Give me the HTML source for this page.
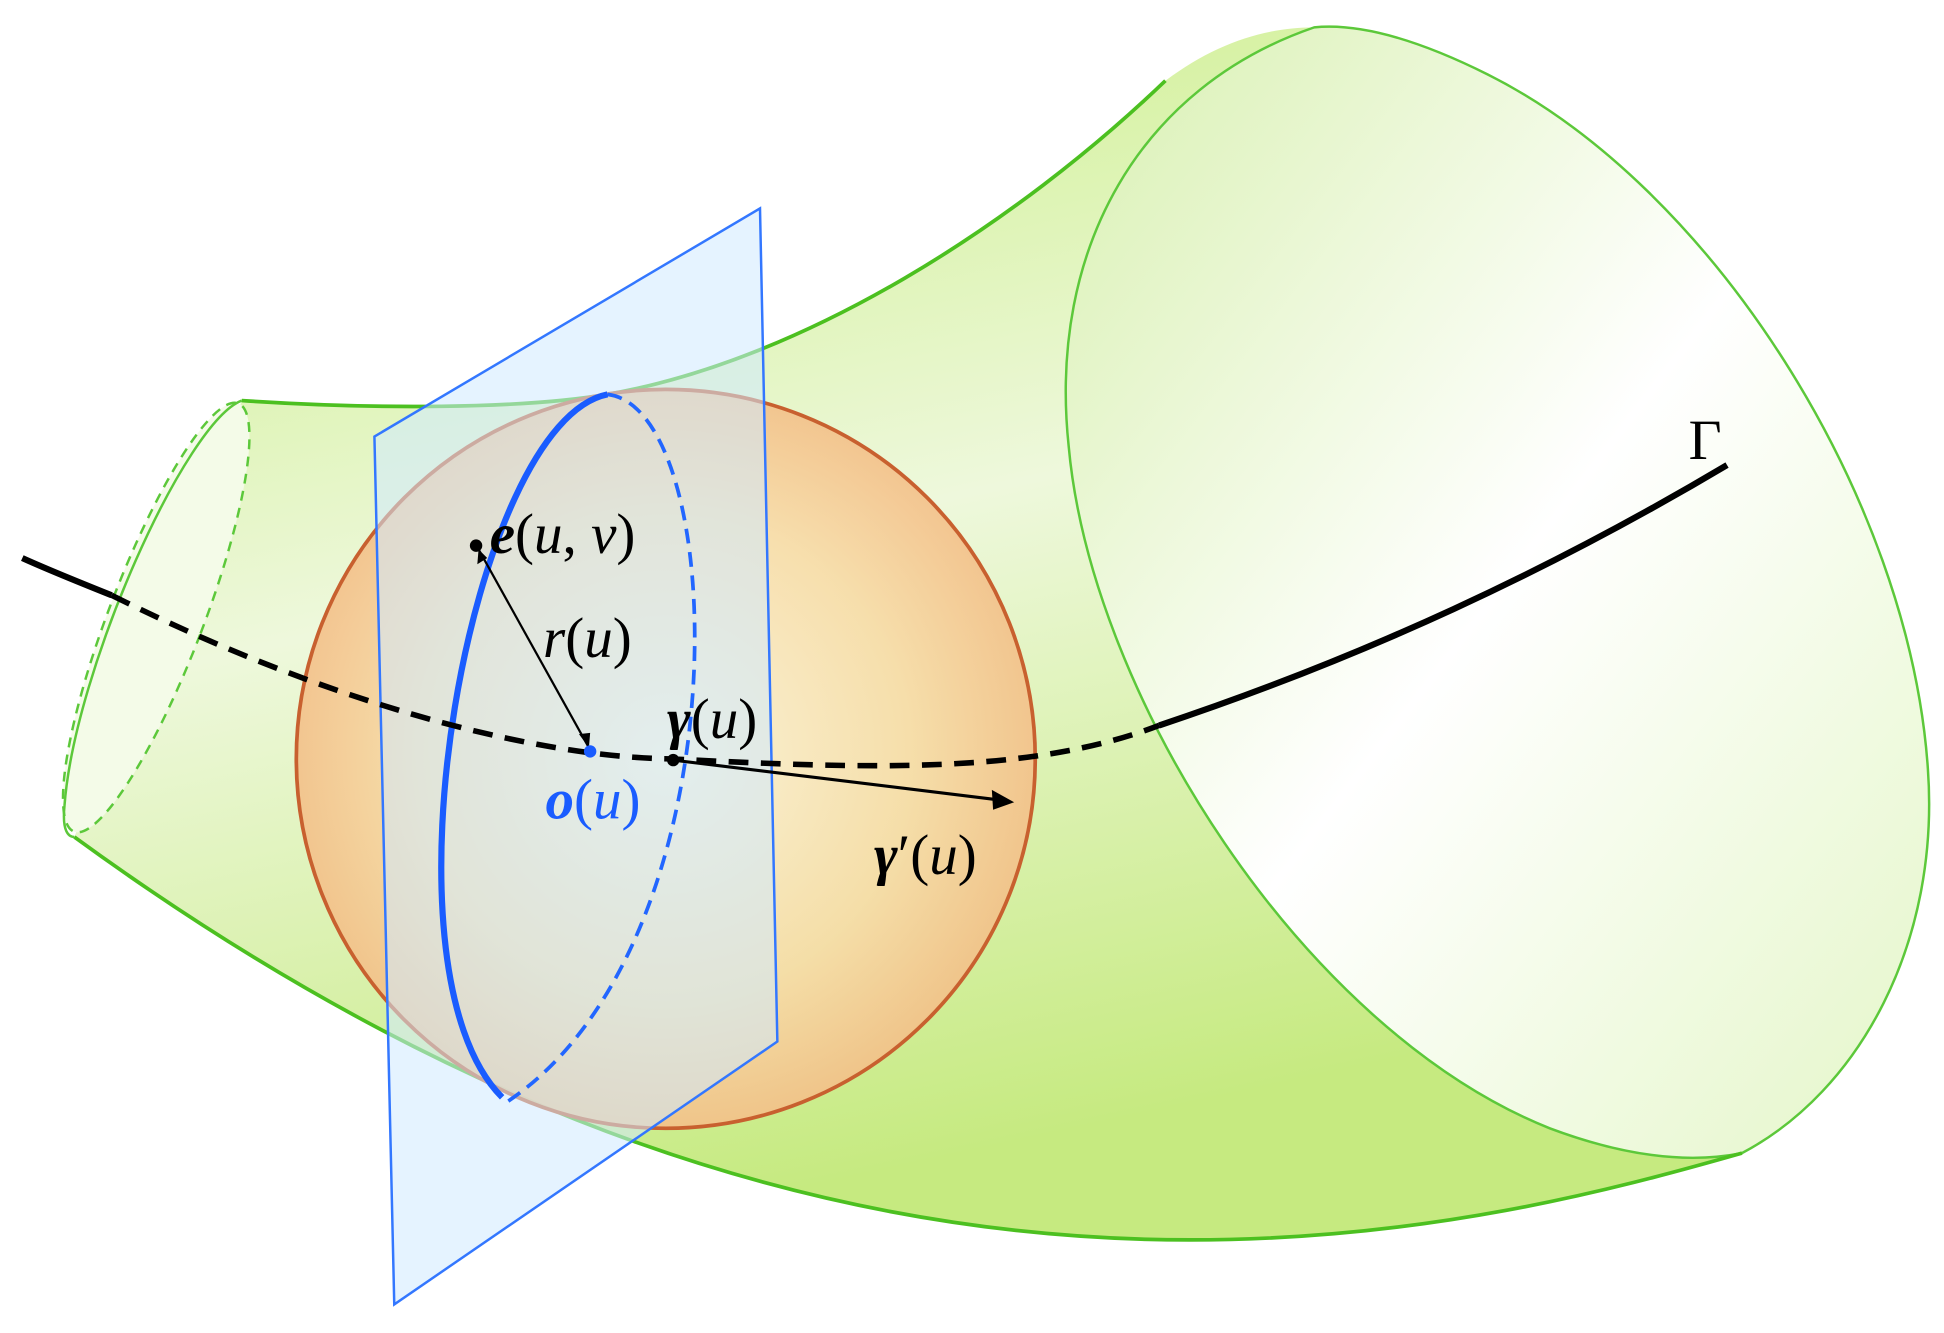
<!DOCTYPE html>
<html><head><meta charset="utf-8"><style>
html,body{margin:0;padding:0;background:#fff}
svg{display:block}
text{font-family:"Liberation Serif",serif}
</style></head><body>
<svg width="1944" height="1333" viewBox="0 0 1568 1075" xmlns="http://www.w3.org/2000/svg">
<defs>
<linearGradient id="tubeG" x1="0" y1="0" x2="0.3" y2="1">
<stop offset="0" stop-color="#c8ee80"/><stop offset="0.5" stop-color="#eef8dc"/><stop offset="1" stop-color="#c6ea80"/>
</linearGradient>
<linearGradient id="capG" x1="0" y1="0" x2="1" y2="1">
<stop offset="0" stop-color="#d8f0b0"/><stop offset="0.5" stop-color="#ffffff"/><stop offset="1" stop-color="#e4f6c8"/>
</linearGradient>
<radialGradient id="sphG" cx="0.5" cy="0.5" r="0.55">
<stop offset="0" stop-color="#fdf4dc"/><stop offset="0.6" stop-color="#f8dca8"/><stop offset="1" stop-color="#f2b880"/>
</radialGradient>
</defs>
<g>
<path d="M195,323 C300,330 420,330 490,318 C650,290 820,180 940,65 C980,35 1020,22 1060,22 L1405,930 C1300,960 1150,1000 960,1000 C600,1000 300,850 60,675 Z" fill="url(#tubeG)"/>
<path d="M1060,22 C920,70 845,200 862,360 C880,560 1050,830 1250,910 C1330,940 1380,935 1405,930 C1500,880 1565,760 1555,620 C1540,400 1380,150 1200,60 C1150,35 1100,18 1060,22 Z" fill="url(#capG)" stroke="#5cc83a" stroke-width="2"/>
<path d="M195,323 C300,330 420,330 490,318 C650,290 820,180 940,65" fill="none" stroke="#4cc020" stroke-width="3"/>
<path d="M60,675 C300,850 600,1000 960,1000 C1150,1000 1300,960 1405,930" fill="none" stroke="#4cc020" stroke-width="3"/>
<ellipse cx="126" cy="498" rx="38" ry="185" transform="rotate(21 126 498)" fill="#f4fbe8" stroke="#5cc83a" stroke-width="2" stroke-dasharray="8 6"/>
<path d="M195,323 C150,340 60,540 52,650 C50,670 55,675 60,675" fill="none" stroke="#5cc83a" stroke-width="2"/>
</g>
<circle cx="537" cy="612" r="298" fill="url(#sphG)" fill-opacity="0.9" stroke="#c8602f" stroke-width="3"/>
<polygon points="302,352 613,168 627,840 318,1052" fill="#cfeaff" fill-opacity="0.55" stroke="#3377ff" stroke-width="2"/>
<path d="M490,318 C590,330 600,760 410,888" fill="none" stroke="#2266ff" stroke-width="3" stroke-dasharray="12 7"/>
<path d="M490,318 C380,340 300,780 405,885" fill="none" stroke="#1a5cff" stroke-width="5"/>
<g fill="none" stroke="#000" stroke-width="5">
<path d="M18,450 C40,460 70,472 90,480"/>
<path d="M90,480 C250,560 420,610 540,612 C700,620 830,625 935,585" stroke-dasharray="16 10" stroke-width="4.5"/>
<path d="M935,585 C1100,530 1250,460 1393,375"/>
</g>
<line x1="475" y1="603" x2="386" y2="443" stroke="#000" stroke-width="1.8"/>
<polygon points="386,443 385,455 393,450" fill="#000"/><polygon points="475,603 467,592 476,591" fill="#000"/>
<line x1="543" y1="613" x2="805" y2="645" stroke="#000" stroke-width="2.5"/>
<polygon points="818,647 800,637 801,653" fill="#000"/>
<circle cx="384" cy="440" r="5" fill="#000"/>
<circle cx="476" cy="606" r="5" fill="#1a5cff"/>
<circle cx="543" cy="613" r="5" fill="#000"/>
<text x="1362" y="370" font-size="46">Γ</text>
<text x="395" y="446" font-size="46"><tspan font-weight="bold" font-style="italic">e</tspan>(<tspan font-style="italic">u</tspan>, <tspan font-style="italic">v</tspan>)</text>
<text x="438" y="530" font-size="46"><tspan font-style="italic">r</tspan>(<tspan font-style="italic">u</tspan>)</text>
<text x="538" y="595" font-size="46"><tspan font-weight="bold" font-style="italic">γ</tspan>(<tspan font-style="italic">u</tspan>)</text>
<text x="440" y="660" font-size="46" fill="#1a5cff"><tspan font-weight="bold" font-style="italic">o</tspan>(<tspan font-style="italic">u</tspan>)</text>
<text x="705" y="705" font-size="46"><tspan font-weight="bold" font-style="italic">γ</tspan>′(<tspan font-style="italic">u</tspan>)</text>
</svg>
</body></html>
